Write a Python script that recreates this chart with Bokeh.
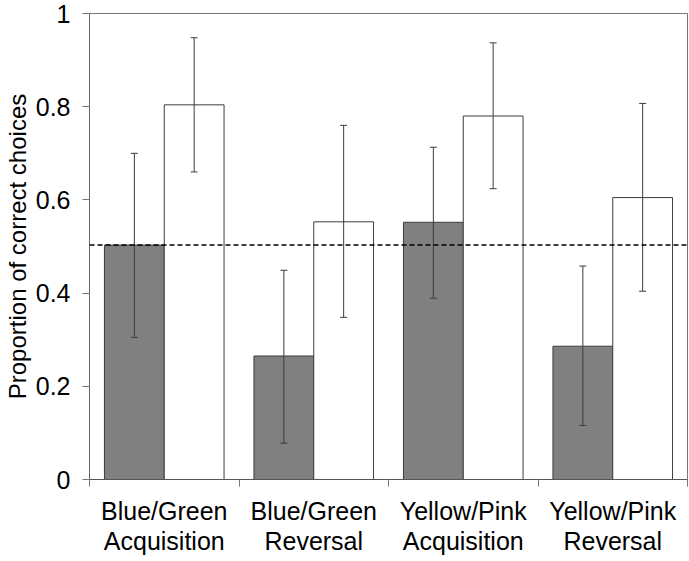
from bokeh.plotting import figure
from bokeh.models import Range1d, FixedTicker, Whisker, TeeHead, Span, ColumnDataSource
from bokeh.embed import file_html
from bokeh.resources import INLINE

# ---- data ----
categories = ["Blue/Green\nAcquisition", "Blue/Green\nReversal",
              "Yellow/Pink\nAcquisition", "Yellow/Pink\nReversal"]
dark_means = [0.503, 0.265, 0.552, 0.286]
dark_lower = [0.305, 0.078, 0.389, 0.116]
dark_upper = [0.700, 0.449, 0.713, 0.458]
white_means = [0.804, 0.553, 0.780, 0.605]
white_lower = [0.660, 0.348, 0.624, 0.404]
white_upper = [0.948, 0.760, 0.937, 0.807]
chance_level = 0.503
y_ticks = [0, 0.2, 0.4, 0.6, 0.8, 1.0]
y_tick_labels = ["0", "0.2", "0.4", "0.6", "0.8", "1"]

FONT = "Liberation Sans"
n = len(categories)
idx = list(range(n))

dark_x = [i + 0.3 for i in idx]
white_x = [i + 0.7 for i in idx]

p = figure(frame_width=598, frame_height=466, output_backend="svg",
           toolbar_location=None, x_range=Range1d(0, n), y_range=Range1d(0, 1),
           min_border_left=80, min_border_right=2, min_border_top=13, min_border_bottom=10)
p.grid.visible = False
p.background_fill_color = "white"
p.outline_line_color = "#777777"
p.outline_line_width = 1

dark_src = ColumnDataSource(dict(x=dark_x, top=dark_means, lo=dark_lower, hi=dark_upper))
white_src = ColumnDataSource(dict(x=white_x, top=white_means, lo=white_lower, hi=white_upper))

p.vbar(x="x", top="top", width=0.4, bottom=0, source=dark_src,
       fill_color="#808080", line_color="#3c3c3c", line_width=1)
p.vbar(x="x", top="top", width=0.4, bottom=0, source=white_src,
       fill_color="white", line_color="#3c3c3c", line_width=1)

for src in (dark_src, white_src):
    w = Whisker(base="x", upper="hi", lower="lo", source=src, level="overlay",
                line_color="#3c3c3c", line_width=1,
                upper_head=TeeHead(size=7, line_color="#3c3c3c", line_width=1),
                lower_head=TeeHead(size=7, line_color="#3c3c3c", line_width=1))
    p.add_layout(w)

p.add_layout(Span(location=chance_level, dimension="width", line_color="black",
                  line_dash="5 3", line_width=1.5, level="overlay"))

# x axis: ticks at category boundaries (minor), labels at centres
xa = p.xaxis[0]
xa.ticker = FixedTicker(ticks=[i + 0.5 for i in idx], minor_ticks=list(range(n + 1)))
xa.major_label_overrides = {i + 0.5: c for i, c in zip(idx, categories)}
xa.major_tick_out = 0
xa.major_tick_in = 0
xa.minor_tick_out = 7
xa.minor_tick_in = 0
xa.minor_tick_line_color = "#777777"
xa.axis_line_color = "#555555"
xa.major_label_text_font = FONT
xa.major_label_text_font_size = "25px"
xa.major_label_text_color = "black"
xa.major_label_text_line_height = 1.1
xa.major_label_standoff = 10

ya = p.yaxis[0]
ya.ticker = FixedTicker(ticks=y_ticks, minor_ticks=[])
ya.major_label_overrides = {t: l for t, l in zip(y_ticks, y_tick_labels)}
ya.major_tick_out = 7
ya.major_tick_in = 0
ya.major_tick_line_color = "#777777"
ya.axis_line_color = "#666666"
ya.major_label_text_font = FONT
ya.major_label_text_font_size = "25px"
ya.major_label_text_color = "black"
ya.major_label_standoff = 12
ya.axis_label = "Proportion of correct choices"
ya.axis_label_text_font = FONT
ya.axis_label_text_font_size = "24px"
ya.axis_label_text_font_style = "normal"
ya.axis_label_text_color = "black"
ya.axis_label_standoff = 2

open("out.html", "w").write(file_html(p, INLINE))
